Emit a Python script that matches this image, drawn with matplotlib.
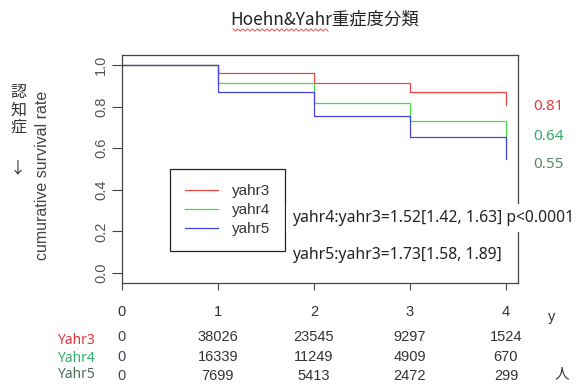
import numpy as np
import matplotlib
matplotlib.use("Agg")
import matplotlib.pyplot as plt
from matplotlib.lines import Line2D
import matplotlib.transforms as mtransforms

# survival curves
times = [0, 1, 2, 3, 4]
groups = ["yahr3", "yahr4", "yahr5"]
surv_yahr3 = [1.0, 0.96, 0.912, 0.869, 0.808]
surv_yahr4 = [1.0, 0.912, 0.816, 0.732, 0.645]
surv_yahr5 = [1.0, 0.869, 0.755, 0.655, 0.547]
end_labels = ["0.81", "0.64", "0.55"]

# numbers at risk
row_names = ["Yahr3", "Yahr4", "Yahr5"]
risk_yahr3 = [0, 38026, 23545, 9297, 1524]
risk_yahr4 = [0, 16339, 11249, 4909, 670]
risk_yahr5 = [0, 7699, 5413, 2472, 299]

hr_texts = ["yahr4:yahr3=1.52[1.42, 1.63] p<0.0001",
            "yahr5:yahr3=1.73[1.58, 1.89]"]

line_colors = ["#ee4444", "#44dd44", "#4444ee"]
label_colors = ["#e53a40", "#2da866", "#5b8a68"]
row_colors = ["#e8323c", "#2fb26a", "#4e6b58"]
box_col = "#444444"

W, H = 576, 385
fig = plt.figure(figsize=(W / 100, H / 100), dpi=100)
ax = fig.add_axes([122 / W, 1 - 283 / H, 396 / W, 228 / H])

for y, c in zip([surv_yahr3, surv_yahr4, surv_yahr5], line_colors):
    ax.step(times, y, where="post", color=c, lw=0.9, clip_on=False)

ax.set_xlim(0, 4.125)
ax.set_ylim(-0.048, 1.048)
ax.set_xticks(times)
ax.set_yticks([0, 0.2, 0.4, 0.6, 0.8, 1.0])
ax.set_yticklabels(["0.0", "0.2", "0.4", "0.6", "0.8", "1.0"],
                   rotation=90, va="center", family="Liberation Sans",
                   fontsize=10.5, color="#555555")
ax.set_xticklabels([str(t) for t in times], family="Liberation Sans",
                   fontsize=10.5, color="#333333")
ax.tick_params(axis="y", direction="out", length=7, width=0.8, pad=3,
               color=box_col)
ax.tick_params(axis="x", direction="out", length=5, width=0.8, pad=11,
               color=box_col)
for s in ax.spines.values():
    s.set_color(box_col)
    s.set_linewidth(0.9)

ax.set_ylabel("cumurative survival rate", family="Liberation Sans",
              fontsize=11.5, color="#444444")
ax.yaxis.set_label_coords(-0.182, 0.47)

handles = [Line2D([], [], color=c, lw=0.9) for c in line_colors]
leg = ax.legend(handles, groups, loc="upper left", bbox_to_anchor=(0.121, 0.5),
                borderaxespad=0, fancybox=False, framealpha=1,
                edgecolor="#222222", handlelength=2.15, handletextpad=0.9,
                labelspacing=0.32, borderpad=1.0,
                prop={"family": "Liberation Sans", "size": 11})
leg.get_frame().set_linewidth(0.9)
for t in leg.get_texts():
    t.set_color("#333333")

ax.text(1.77, 0.264, hr_texts[0], family="Noto Sans", fontsize=11.3,
        color="#222222", va="center", ha="left", clip_on=False, zorder=6,
        bbox=dict(boxstyle="square,pad=0.4", fc="white", ec="none"))
ax.text(1.77, 0.087, hr_texts[1], family="Noto Sans", fontsize=11.3,
        color="#222222", va="center", ha="left", clip_on=False, zorder=6)

for lab, yy, c in zip(end_labels, [0.80, 0.655, 0.52], label_colors):
    ax.text(4.28, yy, lab, family="Noto Sans", fontsize=11, color=c,
            va="center", ha="left", clip_on=False)

# title
fig.text(325 / W, 1 - 20 / H, "Hoehn&Yahr重症度分類",
         family=["Noto Sans CJK JP", "DejaVu Sans"], fontsize=12.5,
         ha="center", va="center", color="#222222")
# spell-check squiggle under the latin part
zx = np.linspace(233, 328, 40)
zy = 30 + 1.2 * ((np.arange(40) % 2) * 2 - 1)
fig.add_artist(Line2D(zx / W, 1 - zy / H, color="#e04040", lw=0.6))

# side note
fig.text(18 / W, 1 - 110 / H, "認\n知\n症", family="Noto Sans CJK JP",
         fontsize=11.5, ha="center", va="center", linespacing=1.0,
         color="#333333")
fig.text(18 / W, 1 - 168 / H, "↓", family="Noto Sans CJK JP",
         fontsize=11.5, ha="center", va="center", color="#333333")

# number at risk table
trans = mtransforms.blended_transform_factory(ax.transData, fig.transFigure)
for risk, ypx, lpx, name, c in zip([risk_yahr3, risk_yahr4, risk_yahr5],
                                   [337, 357, 376], [341, 359, 375],
                                   row_names, row_colors):
    for t, n in zip(times, risk):
        ax.text(t, 1 - ypx / H, str(n), transform=trans, ha="center",
                va="center", family="Liberation Sans", fontsize=10.5,
                color="#333333" if t else "#444455", clip_on=False)
    fig.text(57 / W, 1 - lpx / H, name, family="Noto Sans",
             fontsize=10, color=c, ha="left", va="center")

fig.text(552 / W, 1 - 317 / H, "y", family="Liberation Sans", fontsize=10.5,
         ha="center", va="center", color="#333333")
fig.text(562 / W, 1 - 374 / H, "人", family="Noto Sans CJK JP", fontsize=10.5,
         ha="center", va="center", color="#333333")

fig.savefig("out.png", dpi=100)
